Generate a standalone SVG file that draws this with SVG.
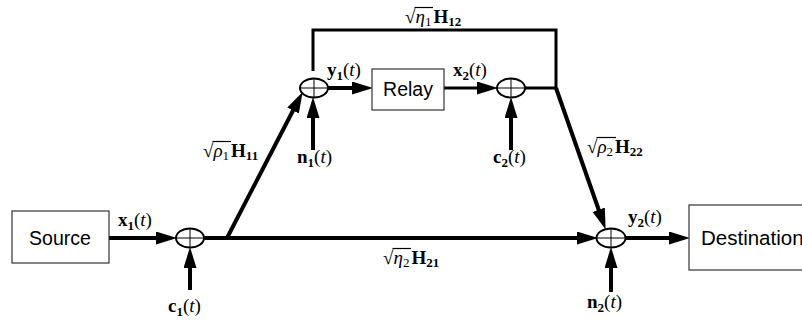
<svg xmlns="http://www.w3.org/2000/svg" width="802" height="324" viewBox="0 0 802 324">
<defs>
<marker id="ah" markerUnits="userSpaceOnUse" markerWidth="22" markerHeight="14" refX="13" refY="6.5" orient="auto">
<path d="M0,0 L21,6.5 L0,13 z" fill="#000"/>
</marker>
<style>
.box{fill:#fff;stroke:#333;stroke-width:1.2}
.btxt{font-family:"Liberation Sans",Arial,sans-serif;font-size:19.5px;fill:#000}
.w{stroke:#000;stroke-width:4;fill:none}
.t{stroke:#000;stroke-width:3;fill:none}
.ar{marker-end:url(#ah)}
.sum{fill:#fff;stroke:#000;stroke-width:2}
.plus{stroke:#000;stroke-width:1}
.m{font-family:"Liberation Serif","Times New Roman",serif;font-size:19px;fill:#000}
.b{font-weight:bold}
.i{font-style:italic}
.s{font-size:13px}
.vin{stroke:#000;stroke-width:1.2}
</style>
</defs>

<g id="connectors">
<line class="w ar" x1="109" y1="238" x2="169" y2="238"/>
<line class="w ar" x1="204" y1="238" x2="590" y2="238"/>
<line class="w ar" x1="227" y1="238" x2="299" y2="99"/>
<line class="w ar" x1="328" y1="88" x2="365" y2="88"/>
<line class="t ar" x1="444" y1="88" x2="490" y2="88"/>
<polyline class="t" points="525,88 556,88 556,30 313,30 313,71"/>
<line class="w ar" x1="556" y1="88" x2="603" y2="222"/>
<line class="w ar" x1="313" y1="150" x2="313" y2="105"/>
<line class="w ar" x1="511" y1="150" x2="511" y2="105"/>
<line class="w ar" x1="190" y1="290" x2="190" y2="255"/>
<line class="w ar" x1="611" y1="292" x2="611" y2="255"/>
<line class="w ar" x1="626" y1="238" x2="682" y2="238"/>
</g>

<g id="source">
<rect class="box" x="12" y="211" width="97" height="52"/>
<text class="btxt" x="60" y="245" text-anchor="middle">Source</text>
</g>
<g id="relay">
<rect class="box" x="372" y="69" width="72" height="41"/>
<text class="btxt" x="408" y="96" text-anchor="middle">Relay</text>
</g>
<g id="destination">
<rect class="box" x="689" y="205" width="120" height="65"/>
<text class="btxt" x="701" y="245" style="font-size:20.5px">Destination</text>
</g>

<g id="sum1">
<ellipse class="sum" cx="190" cy="238" rx="14" ry="9.5"/>
<line class="plus" x1="176" y1="238" x2="204" y2="238"/>
<line class="plus" x1="190" y1="228.5" x2="190" y2="247.5"/>
</g>
<g id="sum2">
<ellipse class="sum" cx="314" cy="88" rx="14" ry="9.5"/>
<line class="plus" x1="300" y1="88" x2="328" y2="88"/>
<line class="plus" x1="314" y1="78.5" x2="314" y2="97.5"/>
</g>
<g id="sum3">
<ellipse class="sum" cx="511" cy="88" rx="14" ry="9.5"/>
<line class="plus" x1="497" y1="88" x2="525" y2="88"/>
<line class="plus" x1="511" y1="78.5" x2="511" y2="97.5"/>
</g>
<g id="sum4">
<ellipse class="sum" cx="611" cy="238" rx="14.5" ry="9.5"/>
<line class="plus" x1="596.5" y1="238" x2="625.5" y2="238"/>
<line class="plus" x1="611" y1="228.5" x2="611" y2="247.5"/>
</g>

<g id="labels">
<text class="m" x="118" y="226"><tspan class="b">x</tspan><tspan class="s b" dy="4">1</tspan><tspan dy="-4">(</tspan><tspan class="i">t</tspan>)</text>
<text class="m" x="168" y="312"><tspan class="b">c</tspan><tspan class="s b" dy="4">1</tspan><tspan dy="-4">(</tspan><tspan class="i">t</tspan>)</text>
<text class="m" x="327" y="76"><tspan class="b">y</tspan><tspan class="s b" dy="4">1</tspan><tspan dy="-4">(</tspan><tspan class="i">t</tspan>)</text>
<text class="m" x="453" y="76"><tspan class="b">x</tspan><tspan class="s b" dy="4">2</tspan><tspan dy="-4">(</tspan><tspan class="i">t</tspan>)</text>
<text class="m" x="297" y="163"><tspan class="b">n</tspan><tspan class="s b" dy="4">1</tspan><tspan dy="-4">(</tspan><tspan class="i">t</tspan>)</text>
<text class="m" x="493" y="163"><tspan class="b">c</tspan><tspan class="s b" dy="4">2</tspan><tspan dy="-4">(</tspan><tspan class="i">t</tspan>)</text>
<text class="m" x="628" y="223"><tspan class="b">y</tspan><tspan class="s b" dy="4">2</tspan><tspan dy="-4">(</tspan><tspan class="i">t</tspan>)</text>
<text class="m" x="587" y="308"><tspan class="b">n</tspan><tspan class="s b" dy="4">2</tspan><tspan dy="-4">(</tspan><tspan class="i">t</tspan>)</text>

<text class="m" x="405" y="23">√<tspan class="i">η</tspan><tspan class="s" dy="3">1</tspan><tspan class="b" dy="-3" dx="2">H</tspan><tspan class="s b" dy="3">12</tspan></text>
<line class="vin" x1="414.5" y1="7.5" x2="433" y2="7.5"/>
<text class="m" x="203" y="157">√<tspan class="i">ρ</tspan><tspan class="s" dy="3">1</tspan><tspan class="b" dy="-3" dx="2">H</tspan><tspan class="s b" dy="3">11</tspan></text>
<line class="vin" x1="212.5" y1="141.5" x2="231" y2="141.5"/>
<text class="m" x="587" y="153">√<tspan class="i">ρ</tspan><tspan class="s" dy="3">2</tspan><tspan class="b" dy="-3" dx="2">H</tspan><tspan class="s b" dy="3">22</tspan></text>
<line class="vin" x1="596.5" y1="137.5" x2="616" y2="137.5"/>
<text class="m" x="383" y="264">√<tspan class="i">η</tspan><tspan class="s" dy="3">2</tspan><tspan class="b" dy="-3" dx="2">H</tspan><tspan class="s b" dy="3">21</tspan></text>
<line class="vin" x1="392.5" y1="248.5" x2="411" y2="248.5"/>
</g>
</svg>
